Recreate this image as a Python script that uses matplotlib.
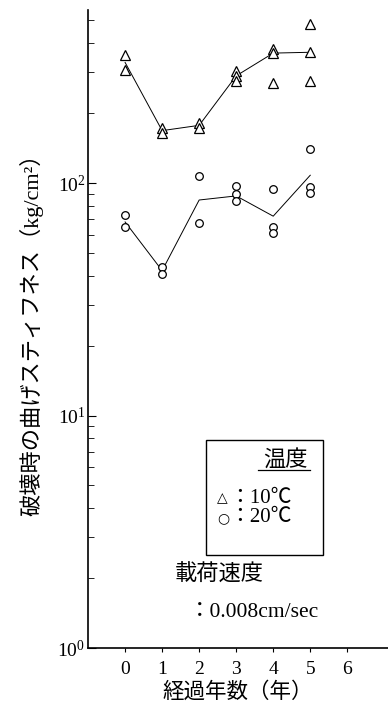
import numpy as np
import matplotlib
matplotlib.use("Agg")
import matplotlib.pyplot as plt
from matplotlib.patches import Rectangle

plt.rcParams['font.family'] = ['Liberation Serif', 'Noto Sans CJK JP', 'DejaVu Sans']
plt.rcParams['mathtext.fontset'] = 'stix'

# elapsed years
years = [0, 1, 2, 3, 4, 5]

# 10 degC (triangles): individual specimens per year
tri_x = [0, 0, 1, 1, 2, 2, 3, 3, 3, 4, 4, 4, 5, 5, 5]
tri_y = [355, 306, 172, 164, 182, 172, 304, 289, 275, 376, 361, 270, 483, 365, 275]
tri_line = [330, 168, 177, 289, 362, 365]

# 20 degC (circles)
cir_x = [0, 0, 1, 1, 2, 2, 3, 3, 3, 4, 4, 4, 5, 5, 5]
cir_y = [72.8, 64.9, 43.4, 40.6, 107, 67.5, 97.3, 89.4, 84.0, 94, 64.9, 60.8, 140, 95.8, 90.3]
cir_line = [68, 42, 84.5, 88, 72, 108]

xticks = [0, 1, 2, 3, 4, 5, 6]

fig = plt.figure(figsize=(3.88, 7.11), dpi=100)
ax = fig.add_axes([0.227, 0.0886, 0.773, 0.8974])

ax.plot(years, tri_line, color='black', lw=0.7)
ax.plot(years, cir_line, color='black', lw=0.7)
ax.plot(tri_x, tri_y, ls='none', marker='^', ms=7, mfc='white', mec='black', mew=0.9)
ax.plot(cir_x, cir_y, ls='none', marker='o', ms=5.5, mfc='white', mec='black', mew=0.9)

ax.set_yscale('log')
ax.set_ylim(1, 555)
ax.set_xlim(-1, 7.1)
ax.set_xticks(xticks)
ax.set_xticklabels([str(t) for t in xticks])
ax.set_yticks([1, 10, 100])

for s in ['top', 'right']:
    ax.spines[s].set_visible(False)
ax.spines['left'].set_linewidth(1.2)
ax.spines['bottom'].set_linewidth(1.2)
ax.tick_params(axis='y', which='major', direction='in', length=6, labelsize=14, pad=2)
ax.tick_params(axis='y', which='minor', direction='in', length=4)
ax.tick_params(axis='x', direction='out', length=3, labelsize=14, pad=6)

ax.set_xlabel('経過年数（年）', fontsize=15.5, labelpad=3)
ax.set_ylabel('破壊時の曲げスティフネス（kg/cm²）', fontsize=16, labelpad=10)

# legend box
ax.add_patch(Rectangle((0.393, 0.146), 0.39, 0.18, transform=ax.transAxes,
                       fill=False, ec='black', lw=1.0))
ax.text(0.733, 0.295, '温度', transform=ax.transAxes, ha='right', va='center', fontsize=16)
ax.plot([0.565, 0.74], [0.279, 0.279], transform=ax.transAxes, color='black', lw=0.9)
ax.text(0.43, 0.235, '△', transform=ax.transAxes, ha='left', va='center', fontsize=10,
        family=['DejaVu Sans'])
ax.text(0.43, 0.204, '○', transform=ax.transAxes, ha='left', va='center', fontsize=10,
        family=['DejaVu Sans'])
ax.text(0.47, 0.235, '：10℃', transform=ax.transAxes, ha='left', va='center', fontsize=15)
ax.text(0.47, 0.204, '：20℃', transform=ax.transAxes, ha='left', va='center', fontsize=15)

ax.text(0.29, 0.114, '載荷速度', transform=ax.transAxes, ha='left', va='center', fontsize=16)
ax.text(0.335, 0.056, '：0.008cm/sec', transform=ax.transAxes, ha='left', va='center', fontsize=15.5)

fig.savefig('out.png', dpi=100)
